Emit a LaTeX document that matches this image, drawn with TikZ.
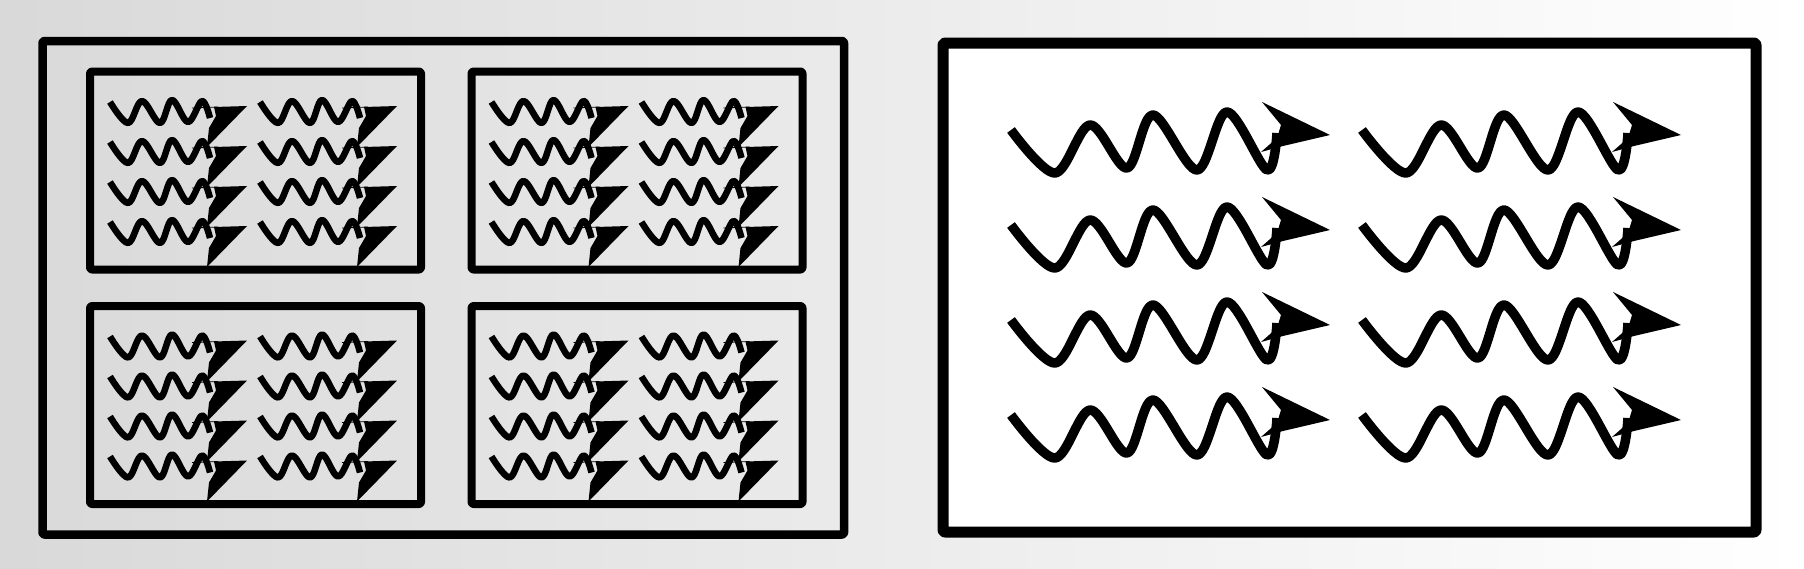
\documentclass[tikz,border=0pt]{standalone}
\begin{document}
\begin{tikzpicture}[x=1pt,y=-1pt,
  framebox/.style={draw=black, line width=8.5pt, rounded corners=2pt, line join=round},
  bigframe/.style={draw=black, line width=11pt, rounded corners=2pt, line join=round, fill=white},
  smallwave/.pic={
    \draw[line width=6.5pt, line join=round] plot[smooth, tension=0.6] coordinates
      {(0,0) (18,21) (32,-1) (50,21) (62,-2) (78,20) (92,-1) (100,16)};
    \draw[line width=0.8pt] (82,6) -- (108,5);
    \fill (137,4) -- (104,5) -- (106,14) -- (99,26) -- (97,45) -- cycle;
  },
  bigwave/.pic={
    \draw[line width=9.5pt, line join=round] plot[smooth, tension=0.55] coordinates
      {(0,0) (44,43) (79,-5) (116,38) (142,-15) (186,40) (216,-18) (256,40) (266,3)};
    \fill (319,5) -- (251,-28) -- (270,-5) -- (266,8) -- (250,22) -- (272,16) -- cycle;
  }]
\useasboundingbox (0,0) rectangle (1804,568);
\shade[left color=black!15, middle color=black!5, right color=white] (0,0) rectangle (1804,568);

% left outer box and its four panels
\draw[framebox] (42.5,41) rectangle (844,534.5);
\foreach \dx/\dy in {0/0, 381.5/0, 0/234.5, 381.5/234.5}{
  \draw[framebox, line width=8pt] (90+\dx,71.5+\dy) rectangle (421+\dx,269.5+\dy);
  \foreach \cx in {110,260}{
    \foreach \ry in {102,142,182,222}{
      \pic at (\cx+\dx,\ry+\dy) {smallwave};
    }
  }
}

% right box
\draw[bigframe] (943,43) rectangle (1756,532);
\foreach \cx in {1011,1362}{
  \foreach \ry in {130,225,320,415}{
    \pic at (\cx,\ry) {bigwave};
  }
}
\end{tikzpicture}
\end{document}
